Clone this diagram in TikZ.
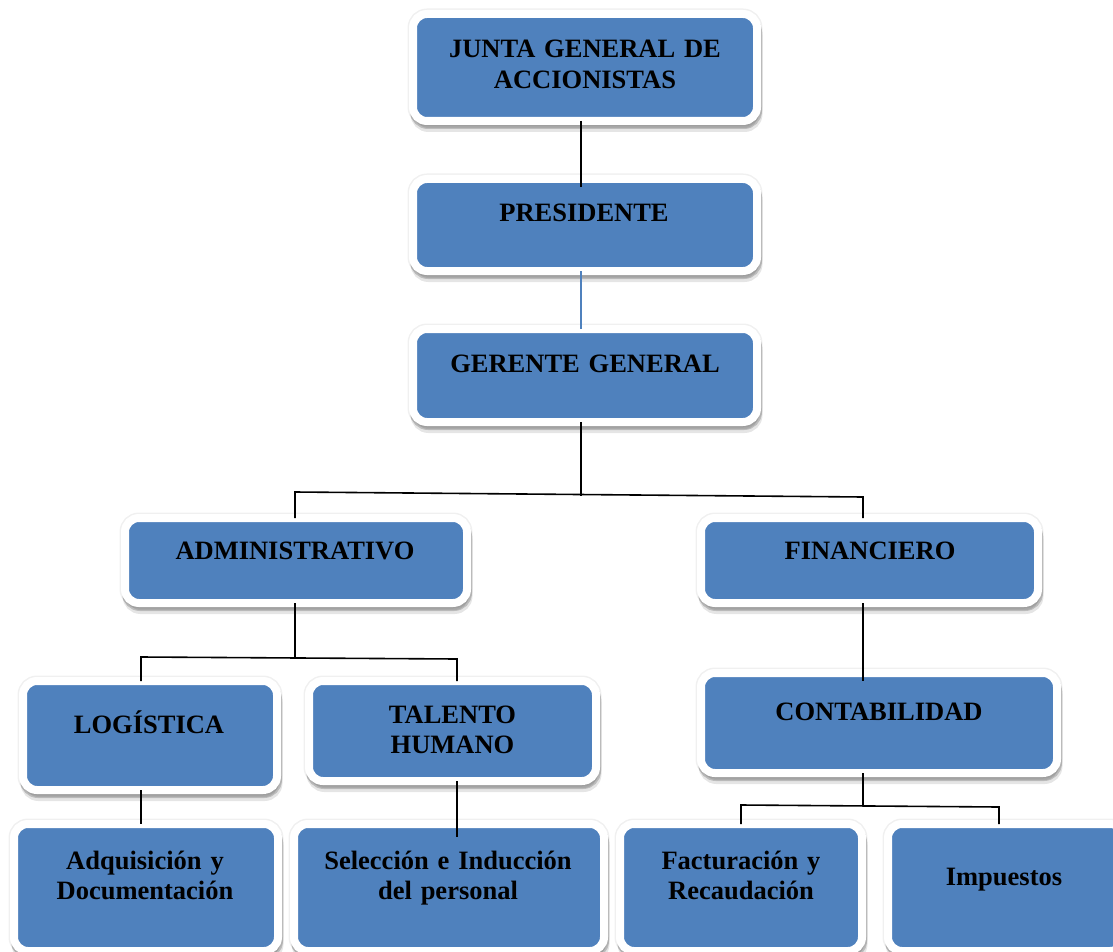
\documentclass[tikz,border=0pt]{standalone}
\usepackage{fontspec}
\setmainfont{Liberation Serif}
\definecolor{boxblue}{HTML}{4F81BD}
\tikzset{
  box/.style={rectangle, rounded corners=14pt, fill=boxblue, draw=white, line width=8pt,
    inner sep=0pt, outer sep=0pt,
    preaction={draw=black, line width=11pt, opacity=0.06},
    preaction={draw=black, fill=black, line width=8pt, opacity=0.10, transform canvas={xshift=1.5pt, yshift=-7pt}},
    preaction={draw=black, fill=black, line width=8pt, opacity=0.18, transform canvas={xshift=1pt, yshift=-4pt}}},
  lbl/.style={anchor=base, text width=330pt, align=center, inner sep=0pt,
    font=\fontsize{26.5}{30.5}\selectfont\bfseries},
  conn/.style={draw=black, line width=1.6pt},
  bconn/.style={draw=boxblue, line width=1.3pt},
}
\begin{document}
\begin{tikzpicture}[x=1pt,y=-1pt]
\useasboundingbox (0,0) rectangle (1113,952);
\clip (0,0) rectangle (1113,952);

% boxes
\node[box, minimum width=344pt, minimum height=107pt] (junta) at (585,67.5) {};
\node[box, minimum width=344pt, minimum height=92pt] (presidente) at (585,225) {};
\node[box, minimum width=344pt, minimum height=93pt] (gerente) at (585,375.5) {};
\node[box, minimum width=342pt, minimum height=85pt] (admin) at (296,560.5) {};
\node[box, minimum width=337pt, minimum height=85pt] (finan) at (869.5,560.5) {};
\node[box, minimum width=254pt, minimum height=109pt] (logist) at (150,735.5) {};
\node[box, minimum width=287pt, minimum height=100pt] (talento) at (452.5,731) {};
\node[box, minimum width=356pt, minimum height=100pt] (contab) at (879,723) {};
\node[box, minimum width=264pt, minimum height=127pt] (adq) at (146,887.5) {};
\node[box, minimum width=310pt, minimum height=127pt] (selec) at (449,887.5) {};
\node[box, minimum width=242pt, minimum height=127pt] (fact) at (741,887.5) {};
\node[box, minimum width=236pt, minimum height=127pt] (impu) at (1006,887.5) {};

% labels
\node[lbl] (juntaT) at (585,58) {JUNTA GENERAL DE\\ACCIONISTAS};
\node[lbl] (presidenteT) at (584,222) {PRESIDENTE};
\node[lbl] (gerenteT) at (585,372) {GERENTE GENERAL};
\node[lbl] (adminT) at (295,559) {ADMINISTRATIVO};
\node[lbl] (finanT) at (870,559) {FINANCIERO};
\node[lbl] (logistT) at (149,733) {LOGÍSTICA};
\node[lbl] (talentoT) at (452.5,723) {TALENTO\\HUMANO};
\node[lbl] (contabT) at (879,720) {CONTABILIDAD};
\node[lbl] (adqT) at (145,869) {Adquisición y\\Documentación};
\node[lbl] (selecT) at (448,869) {Selección e Inducción\\del personal};
\node[lbl] (factT) at (741,869) {Facturación y\\Recaudación};
\node[lbl] (impuT) at (1004,885) {Impuestos};

% junction coordinates
\coordinate (gm) at (581,496);
\coordinate (gl) at (295,492);
\coordinate (gr) at (863,497);
\coordinate (am) at (295,657);
\coordinate (al) at (141,657);
\coordinate (ar) at (457,659);
\coordinate (sd) at (457,837);
\coordinate (cf) at (863,681);
\coordinate (cm) at (863,806);
\coordinate (cl) at (741,805);
\coordinate (cr) at (999,807);

% connectors
\draw[conn] ([xshift=-4pt]junta.south) -- ([xshift=-4pt,yshift=-8pt]presidente.north);
\draw[bconn] ([xshift=-4pt]presidente.south) -- ([xshift=-4pt]gerente.north);
\draw[conn] (gerente.south -| gm) -- (gm);
\draw[conn] (admin.north -| gl) -- (gl) -- (gr) -- (finan.north -| gr);
\draw[conn] (admin.south -| am) -- (am);
\draw[conn] (logist.north -| al) -- (al) -- (ar) -- (talento.north -| ar);
\draw[conn] (logist.south -| al) -- (adq.north -| al);
\draw[conn] (talento.south -| ar) -- (sd);
\draw[conn] (finan.south -| gr) -- (cf);
\draw[conn] (contab.south -| cm) -- (cm);
\draw[conn] (fact.north -| cl) -- (cl) -- (cr) -- (impu.north -| cr);
\end{tikzpicture}
\end{document}
